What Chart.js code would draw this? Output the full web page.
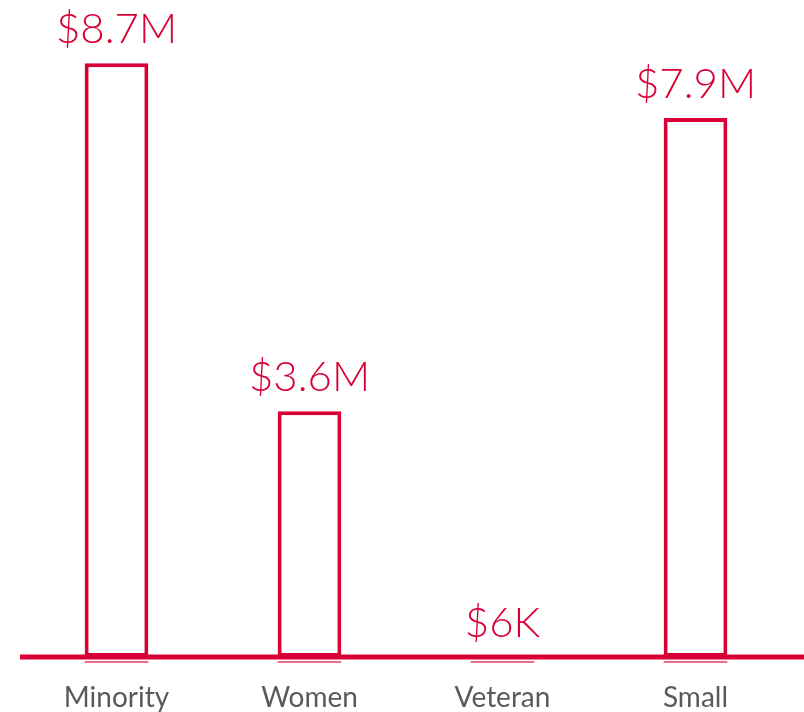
<!DOCTYPE html>
<html>
<head>
<meta charset="utf-8">
<script src="https://cdn.jsdelivr.net/npm/chart.js@4"></script>
<style>
  body { margin: 0; background: #fff; }
  #wrap { width: 804px; height: 712px; }
</style>
</head>
<body>
<div id="wrap"><canvas id="myChart" width="804" height="712"></canvas></div>
<script>
// data (millions of dollars)
const categories = ['Minority', 'Women', 'Veteran', 'Small'];
const spendValues = [8.7, 3.6, 0.006, 7.9];
const valueLabels = ['$8.7M', '$3.6M', '$6K', '$7.9M'];

const red = '#d90036';
const gray = '#5a5a5a';

// draws the $ labels over each bar and stretches the base line to the right edge
const barLabels = {
    id: 'barLabels',
    afterDatasetsDraw: function(chart) {
        const ctx = chart.ctx;
        const meta = chart.getDatasetMeta(0);
        const yScale = chart.scales.y;
        const base = yScale.getPixelForValue(0);

        ctx.save();
        ctx.strokeStyle = red;
        ctx.lineWidth = 5;
        ctx.beginPath();
        ctx.moveTo(chart.chartArea.left, base);
        ctx.lineTo(chart.width, base);
        ctx.stroke();

        // faint foot line under every bar
        ctx.lineWidth = 1.5;
        ctx.strokeStyle = 'rgba(217,0,54,0.75)';
        meta.data.forEach(function(bar) {
            ctx.beginPath();
            ctx.moveTo(bar.x - bar.width / 2, base + 5);
            ctx.lineTo(bar.x + bar.width / 2, base + 5);
            ctx.stroke();
        });

        ctx.fillStyle = red;
        ctx.font = '300 42px Lato, "Open Sans", sans-serif';
        ctx.textAlign = 'center';
        ctx.textBaseline = 'alphabetic';
        meta.data.forEach(function(bar, i) {
            ctx.fillText(valueLabels[i], bar.x, bar.y - 20);
        });
        ctx.restore();
    }
};

const ctx = document.getElementById('myChart').getContext('2d');
new Chart(ctx, {
    type: 'bar',
    data: {
        labels: categories,
        datasets: [{
            data: spendValues,
            backgroundColor: '#ffffff',
            borderColor: red,
            borderWidth: 4,
            borderSkipped: false,
            barPercentage: 0.33,
            categoryPercentage: 1
        }]
    },
    options: {
        responsive: false,
        animation: false,
        layout: { padding: { left: 20, right: 12, top: 4, bottom: 0 } },
        plugins: {
            legend: { display: false },
            tooltip: { enabled: false }
        },
        scales: {
            x: {
                grid: { display: false, drawTicks: false },
                border: { display: false },
                ticks: {
                    color: gray,
                    padding: 24,
                    font: { family: 'Lato, "Open Sans", sans-serif', size: 28 }
                },
                afterFit: function(scale) {
                    scale.height = 55;
                }
            },
            y: {
                display: false,
                min: 0,
                max: 9.57
            }
        }
    },
    plugins: [barLabels]
});
</script>
</body>
</html>
